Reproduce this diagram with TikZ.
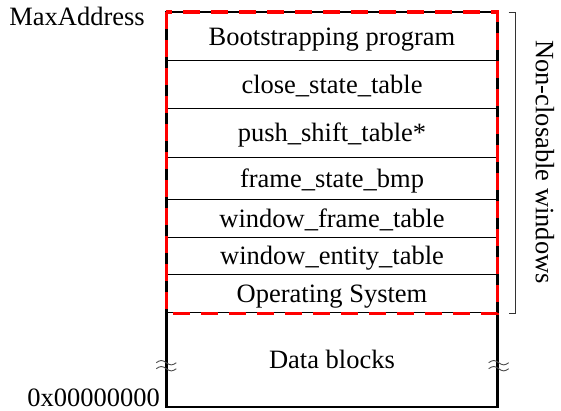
\documentclass[tikz,border=0pt]{standalone}
\usepackage{fontspec}
\setmainfont{Liberation Serif}
\begin{document}
\begin{tikzpicture}[x=1pt,y=-1pt,
  every node/.style={font=\fontsize{26.5}{30}\selectfont},
  row/.style={draw=black,line width=1.4pt,minimum width=330pt,inner sep=0pt,
              text height=17.5pt,text depth=0pt,anchor=north},
  lbl/.style={inner sep=0pt},
  reddash/.style={draw=red,line width=3.5pt,dash pattern=on 17pt off 11pt},
  brace/.style={draw=black!80,line width=0.8pt},
  wave/.style={draw=black!70,line width=0.9pt}]
\useasboundingbox (0,0) rectangle (561,411);
\node[row,minimum height=48pt] (boot) at (332,12) {Bootstrapping program};
\node[row,minimum height=48pt] (close) at (332,60) {close\_state\_table};
\node[row,minimum height=49pt] (push) at (332,108) {push\_shift\_table*};
\node[row,minimum height=42pt] (frame) at (332,157) {frame\_state\_bmp};
\node[row,minimum height=38pt] (wframe) at (332,199) {window\_frame\_table};
\node[row,minimum height=37pt] (went) at (332,237) {window\_entity\_table};
\node[row,minimum height=38pt] (os) at (332,274) {Operating System};
\node[row,minimum height=94pt] (data) at (332,312) {Data blocks};
% outer frame
\draw[line width=2pt] (boot.north west) rectangle (data.south east);
% red dashed region
\draw[reddash] (boot.north west) rectangle (os.south east);
% approx signs (drawn)
\coordinate (apl) at ([xshift=-10pt,yshift=-3pt]data.west);
\coordinate (apr) at ([xshift=-9pt,yshift=-3pt]data.east);
\foreach \c in {apl,apr}{
  \foreach \dy in {0,6}{
    \draw[wave] ([yshift=-\dy pt]\c) sin ++(5,-2.2) cos ++(5,2.2) sin ++(5,2.2) cos ++(5,-2.2);
  }
}
% address labels
\node[lbl,anchor=base east] (maxa) at (145,26) {MaxAddress};
\node[lbl,anchor=base east] (zero) at (160,406) {0x00000000};
% bracket
\coordinate (b1) at ([xshift=11pt]boot.north east);
\coordinate (b2) at ([xshift=18pt]boot.north east);
\coordinate (b3) at ([xshift=18pt]os.south east);
\coordinate (b4) at ([xshift=11pt]os.south east);
\draw[brace] (b1) -- (b2) -- (b3) -- (b4);
\node[lbl,rotate=-90] (ncw) at (545,162) {Non-closable windows};
\end{tikzpicture}
\end{document}
